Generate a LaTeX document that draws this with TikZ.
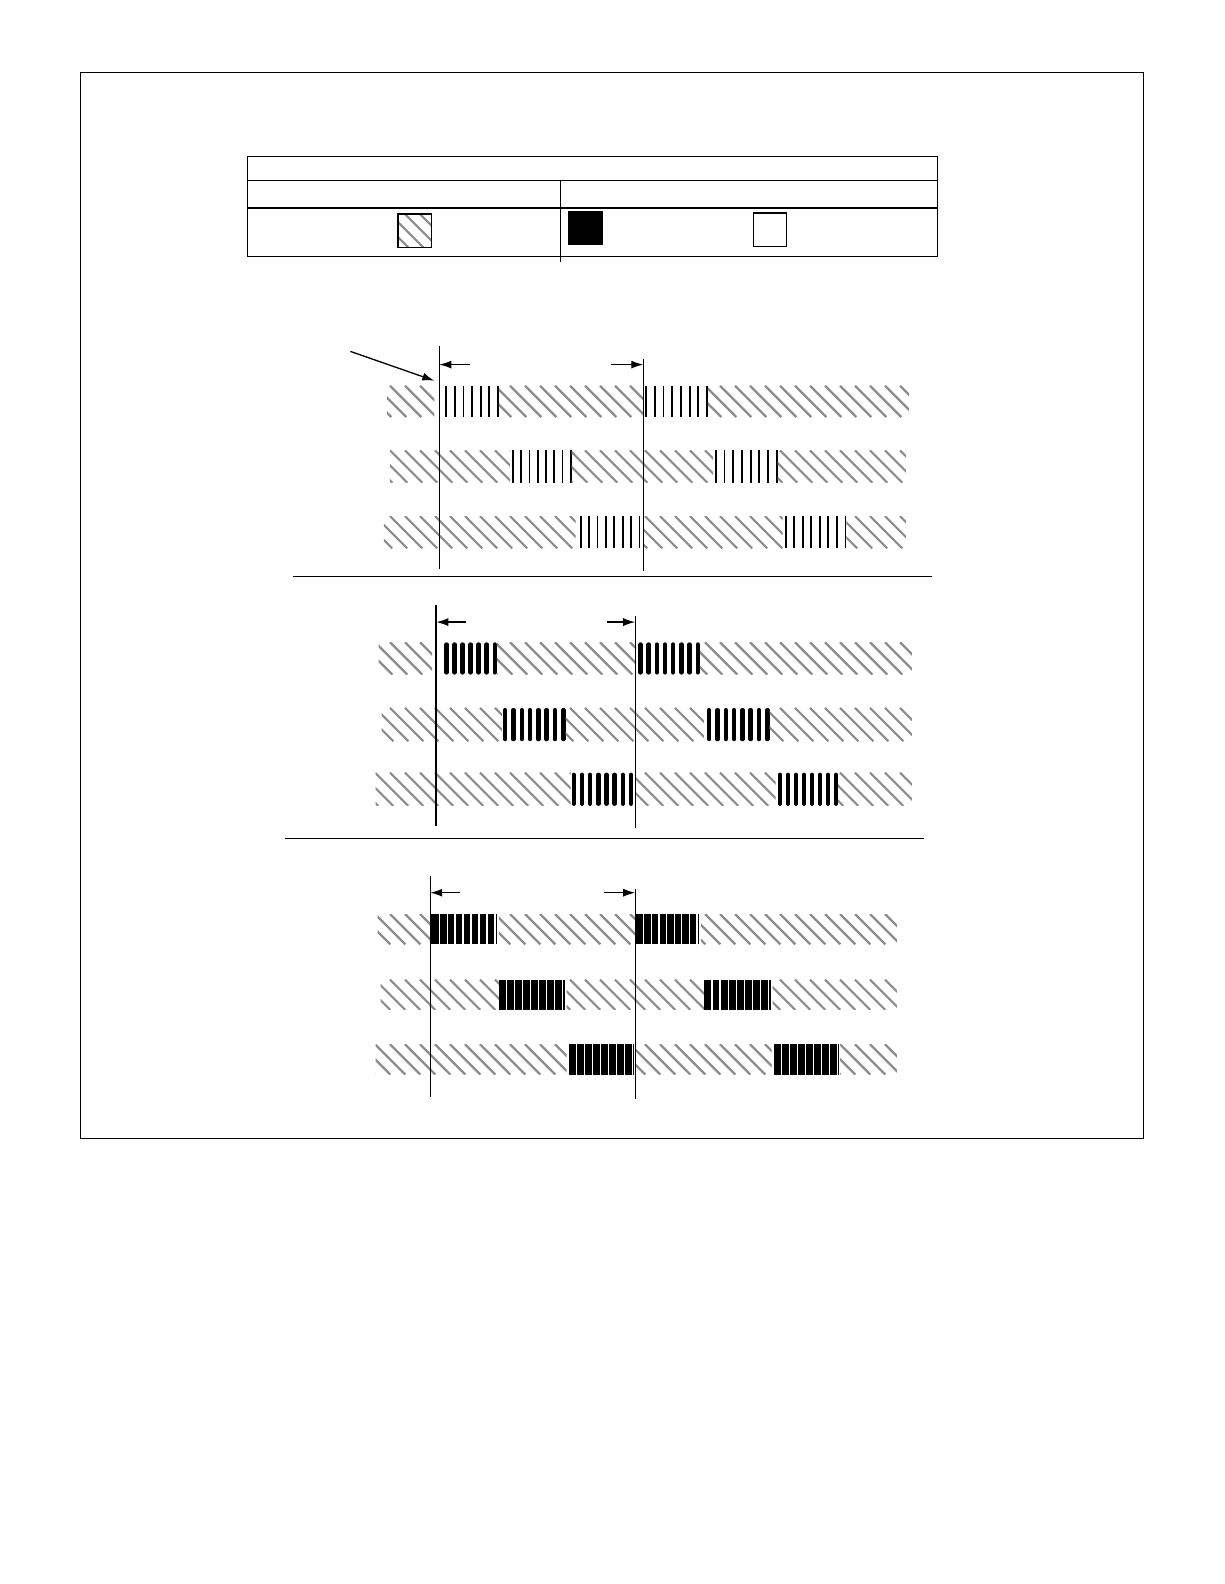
\documentclass[tikz,border=0pt]{standalone}
\usepackage{tikz}
\usetikzlibrary{arrows.meta}
\tikzset{
        frame/.style={line width=1.3pt}, % outer box and table rules
        hatchline/.style={draw=black!45, line width=2.2pt}, % grey slanted hatch
        thinbar/.style={line width=1.8pt},
        thickbar/.style={line width=4.4pt, line cap=round},
        timeline/.style={line width=1.3pt},
        dim/.style={-{Latex[length=12pt,width=8pt]}, line width=1.3pt},
}

% hatched strip: x1, x2, ytop, ybot
\newcommand{\hatchbox}[4]{%
  \begin{scope}
    \clip (#1,#3) rectangle (#2,#4);
    \pgfmathtruncatemacro{\hfirst}{floor((#1-(#4-#3))/15)-1}
    \pgfmathtruncatemacro{\hlast}{ceil(#2/15)+1}
    \foreach \k in {\hfirst,...,\hlast}
      \draw[hatchline] ({15*\k},#3) -- ({15*\k+(#4-#3)},#4);
  \end{scope}}
% thin bars: x1, x2, count, ytop, ybot
\newcommand{\thinbars}[5]{%
  \foreach \k in {1,...,#3}
    \draw[thinbar] ({#1+0.9+(#2-#1-1.8)*(\k-1)/(#3-1)},#4) -- ({#1+0.9+(#2-#1-1.8)*(\k-1)/(#3-1)},#5);}
% thick bars: x1, x2, count, ytop, ybot
\newcommand{\thickbars}[5]{%
  \foreach \k in {1,...,#3}
    \draw[thickbar] ({#1+2.2+(#2-#1-4.4)*(\k-1)/(#3-1)},{#4+2.2}) -- ({#1+2.2+(#2-#1-4.4)*(\k-1)/(#3-1)},{#5-2.2});}
% black block with white slits: x1, x2, ytop, ybot
\newcommand{\blockbars}[4]{%
  \fill (#1,#3) rectangle (#2,#4);
  \foreach \k in {1,...,8}
    \draw[white, line width=1.2pt] ({#1+(#2-#1-2)*\k/8},#3) -- ({#1+(#2-#1-2)*\k/8},#4);}

\begin{document}
\begin{tikzpicture}[x=1pt,y=-1pt]
\useasboundingbox (0,0) rectangle (1224,1584);

\draw[frame] (80.8,72.7) rectangle (1143.2,1138.2);

% legend table
\draw[frame] (247.4,156.5) rectangle (937.2,256.5);
\draw[frame] (247.4,180.8) -- (937.2,180.8);
\draw[frame] (247.4,208.0) -- (937.2,208.0);
\draw[frame] (560.5,180.8) -- (560.5,261.6);
\hatchbox{397.9}{431.2}{214.1}{247.4}
\draw[frame] (397.9,214.1) rectangle (431.2,247.4);
\fill (567.6,211.1) rectangle (602.9,245.4);
\draw[frame] (753.4,213.1) rectangle (786.7,246.4);

% first group
\hatchbox{386.8}{434.3}{385.8}{417.1}
\thinbars{445.4}{498.9}{7}{385.8}{417.1}
\hatchbox{498.9}{643.3}{385.8}{417.1}
\thinbars{645.3}{707.9}{8}{385.8}{417.1}
\hatchbox{707.9}{908.9}{385.8}{417.1}

\hatchbox{389.8}{510.0}{450.4}{482.7}
\thinbars{512.0}{571.6}{8}{450.4}{482.7}
\hatchbox{571.6}{713.0}{450.4}{482.7}
\thinbars{715.0}{777.6}{8}{450.4}{482.7}
\hatchbox{777.6}{905.9}{450.4}{482.7}

\hatchbox{383.8}{575.6}{516.1}{548.4}
\thinbars{579.7}{640.3}{8}{516.1}{548.4}
\hatchbox{643.3}{782.7}{516.1}{548.4}
\thinbars{784.7}{846.3}{8}{516.1}{548.4}
\hatchbox{846.3}{905.9}{516.1}{548.4}

\draw[timeline] (439.3,346.4) -- (439.3,568.6);
\draw[timeline] (643.3,358.5) -- (643.3,570.6);
\coordinate (a1l) at (439.3,364.6);
\coordinate (a1r) at (643.3,364.6);
\coordinate (a1lt) at (469.6,364.6);
\coordinate (a1rt) at (611.0,364.6);
\draw[dim] (a1lt) -- (a1l);
\draw[dim] (a1rt) -- (a1r);
\coordinate (ptail) at (350.4,351.4);
\coordinate (phead) at (434.3,380.7);
\draw[dim] (ptail) -- (phead);

\draw[frame] (292.9,576.6) -- (932.1,576.6);

% second group
\hatchbox{378.7}{432.2}{642.3}{674.6}
\thickbars{444.4}{496.9}{7}{642.3}{674.6}
\hatchbox{496.9}{636.2}{642.3}{674.6}
\thickbars{638.3}{699.9}{8}{642.3}{674.6}
\hatchbox{699.9}{911.9}{642.3}{674.6}

\hatchbox{381.7}{501.9}{707.9}{741.3}
\thickbars{502.9}{565.5}{8}{707.9}{741.3}
\hatchbox{565.5}{703.9}{707.9}{741.3}
\thickbars{706.9}{769.5}{8}{707.9}{741.3}
\hatchbox{769.5}{911.9}{707.9}{741.3}

\hatchbox{375.7}{570.6}{772.6}{805.9}
\thickbars{571.6}{633.2}{8}{772.6}{805.9}
\hatchbox{636.2}{775.6}{772.6}{805.9}
\thickbars{777.6}{838.2}{8}{772.6}{805.9}
\hatchbox{838.2}{911.9}{772.6}{805.9}

\draw[timeline, line width=1.8pt] (436.3,604.9) -- (436.3,826.1);
\draw[timeline] (635.2,616.0) -- (635.2,828.1);
\coordinate (a2l) at (436.3,622.1);
\coordinate (a2r) at (635.2,622.1);
\coordinate (a2lt) at (465.6,622.1);
\coordinate (a2rt) at (607.0,622.1);
\draw[dim] (a2lt) -- (a2l);
\draw[dim] (a2rt) -- (a2r);

\draw[frame] (284.8,838.2) -- (924.0,838.2);

% third group
\hatchbox{377.7}{430.2}{914.0}{944.3}
\blockbars{431.2}{496.9}{914.0}{944.3}
\hatchbox{498.9}{635.2}{914.0}{944.3}
\blockbars{636.2}{698.9}{914.0}{944.3}
\hatchbox{700.9}{896.8}{914.0}{944.3}

\hatchbox{380.7}{498.9}{979.6}{1009.9}
\blockbars{498.9}{564.5}{979.6}{1009.9}
\hatchbox{566.6}{703.9}{979.6}{1009.9}
\blockbars{703.9}{770.6}{979.6}{1009.9}
\hatchbox{772.6}{896.8}{979.6}{1009.9}

\hatchbox{375.7}{566.6}{1044.2}{1074.5}
\blockbars{568.6}{634.2}{1044.2}{1074.5}
\hatchbox{635.2}{771.6}{1044.2}{1074.5}
\blockbars{773.6}{839.2}{1044.2}{1074.5}
\hatchbox{840.2}{896.8}{1044.2}{1074.5}

\draw[timeline] (430.2,875.6) -- (430.2,1096.8);
\draw[timeline] (635.2,888.7) -- (635.2,1098.8);
\coordinate (a3l) at (430.2,892.7);
\coordinate (a3r) at (635.2,892.7);
\coordinate (a3lt) at (459.5,892.7);
\coordinate (a3rt) at (603.9,892.7);
\draw[dim] (a3lt) -- (a3l);
\draw[dim] (a3rt) -- (a3r);

\end{tikzpicture}
\end{document}
